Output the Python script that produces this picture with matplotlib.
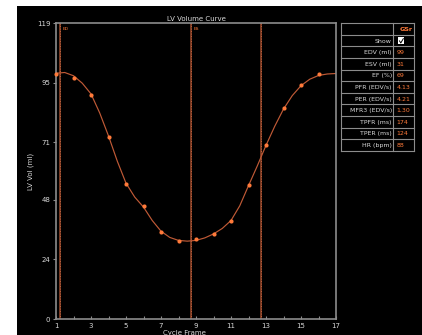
import numpy as np
import matplotlib
matplotlib.use("Agg")
import matplotlib.pyplot as plt
from matplotlib.patches import Rectangle

# LV volume curve data
frames = list(range(1, 17))
volumes = [98.4, 96.9, 90.1, 73.2, 54.3, 45.3, 35.1, 31.2, 32.3, 34.2, 39.3, 54.0, 70.1, 84.7, 94.0, 98.5]

# fitted curve, read at every half frame
fit_frames = [1 + 0.5 * i for i in range(33)]
fit_volumes = [98.8, 99.1, 97.8, 94.8, 90.5, 82.8, 73.6, 63.5, 54.6, 49.0, 45.0, 39.6, 35.3, 32.8,
               31.6, 31.3, 31.6, 32.6, 34.2, 36.4, 39.6, 45.5, 53.6, 61.5, 69.8, 77.5, 84.4, 89.8,
               93.8, 96.4, 97.9, 98.5, 98.7]

# marker lines (ED, ES, third)
marker_frames = [1.23, 8.71, 12.73]
marker_labels = ["ED", "ES", ""]

y_ticks = [0, 24, 48, 71, 95, 119]
x_major = [1, 3, 5, 7, 9, 11, 13, 15, 17]
x_minor = [2, 4, 6, 8, 10, 12, 14, 16]

table_names = ["", "Show", "EDV (ml)", "ESV (ml)", "EF (%)", "PFR (EDV/s)", "PER (EDV/s)",
               "MFR3 (EDV/s)", "TPFR (ms)", "TPER (ms)", "HR (bpm)"]
table_values = ["GSr", "", "99", "31", "69", "4.13", "4.21", "1.30", "174", "124", "88"]

W, H = 422, 335
fig = plt.figure(figsize=(W / 100, H / 100), dpi=100)
fig.patch.set_facecolor("black")
# white margins on the left and top
fig.patches.append(Rectangle((0, 0), 17 / W, 1, transform=fig.transFigure,
                             facecolor="white", edgecolor="none", zorder=-10))
fig.patches.append(Rectangle((0, (H - 6) / H), 1, 6 / H, transform=fig.transFigure,
                             facecolor="white", edgecolor="none", zorder=-10))

txt = "#d8d8d8"
grey = "#8c8c8c"
orange = "#ff7a3a"
curve_c = "#c05a36"
line_c = "#8e4428"

ax = fig.add_axes([56 / W, (H - 319) / H, 280 / W, 296 / H])
ax.set_facecolor("black")
ax.set_xlim(1, 17)
ax.set_ylim(0, 119)
for s in ax.spines.values():
    s.set_color(grey)
    s.set_linewidth(1.2)

ax.set_yticks(y_ticks)
ax.set_xticks(x_major)
ax.set_xticks(x_minor, minor=True)
ax.tick_params(axis="y", colors=grey, labelcolor=txt, labelsize=5, length=2, width=0.8, direction="out", pad=2)
ax.tick_params(axis="x", which="both", colors=grey, labelcolor=txt, labelsize=5, length=2, width=0.8,
               direction="in", pad=3)
ax.tick_params(axis="x", which="minor", labelbottom=False)

for f, lab in zip(marker_frames, marker_labels):
    ax.axvline(f, color=line_c, lw=1.2, zorder=1)
    ax.axvline(f, color="#d87048", lw=0.6, ls=(0, (1, 2)), zorder=1)
    if lab:
        ax.text(f + 0.15, 116.5, lab, color=orange, fontsize=3.2, va="center", ha="left")

ax.plot(fit_frames, fit_volumes, color=curve_c, lw=0.85, zorder=2)
ax.plot(frames, volumes, "o", color=orange, ms=3.0, mec="none", zorder=3, clip_on=False)

ax.text(0.5, 1.005, "LV Volume Curve", transform=ax.transAxes, ha="center", va="bottom",
        color=txt, fontsize=5)
ax.set_ylabel("LV Vol (ml)", color=txt, fontsize=5, labelpad=2)
fig.text(184 / W, (H - 333) / H, "Cycle Frame", color=txt, fontsize=5, ha="center", va="center")

# summary table at the right
tx0, tx1, ty0, ty1 = 341, 414, 23.3, 150.7
tab = fig.add_axes([tx0 / W, (H - ty1) / H, (tx1 - tx0) / W, (ty1 - ty0) / H])
tab.set_xlim(0, tx1 - tx0)
tab.set_ylim(len(table_names), 0)
tab.axis("off")
nrows = len(table_names)
split = 393.3 - tx0
for i in range(nrows + 1):
    tab.plot([0, tx1 - tx0], [i, i], color=grey, lw=0.8, clip_on=False)
tab.plot([0, 0], [0, nrows], color=grey, lw=0.8, clip_on=False)
tab.plot([tx1 - tx0, tx1 - tx0], [0, nrows], color=grey, lw=0.8, clip_on=False)
tab.plot([split, split], [0, nrows], color=grey, lw=0.8, clip_on=False)
for i, (name, val) in enumerate(zip(table_names, table_values)):
    if name:
        tab.text(split - 1.5, i + 0.55, name, color=txt, fontsize=4.5, ha="right", va="center")
    if i == 0:
        tab.text(tx1 - tx0 - 1, i + 0.55, val, color=orange, fontsize=4.6, ha="right", va="center",
                 fontweight="bold")
    elif val:
        tab.text(split + 3, i + 0.55, val, color=orange, fontsize=4.5, ha="left", va="center")
    else:
        tab.add_patch(Rectangle((split + 5, i + 0.22), 6, 0.6, facecolor="white", edgecolor="none"))
        tab.plot([split + 6.2, split + 7.5, split + 10], [i + 0.52, i + 0.7, i + 0.33], color="black", lw=0.7)

fig.savefig("out.png", dpi=100, facecolor=fig.get_facecolor())
